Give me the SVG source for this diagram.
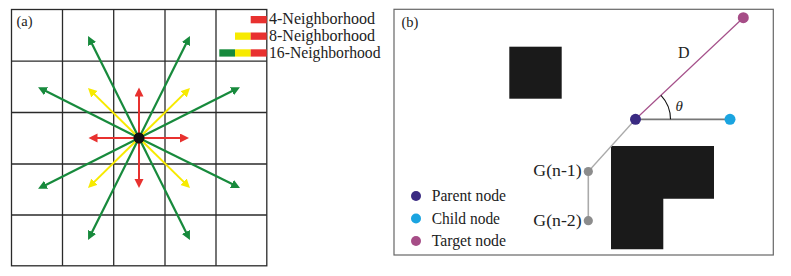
<svg xmlns="http://www.w3.org/2000/svg" width="791" height="276" viewBox="0 0 791 276">
<style>
text{font-family:"Liberation Serif","Times New Roman",serif;fill:#222}
.grid{stroke:#2a2a2a;stroke-width:1.3;fill:none}
.r{stroke:#e8312f;stroke-width:2}
.y{stroke:#f7ea00;stroke-width:2}
.g{stroke:#178a3c;stroke-width:2.2}
.lab{font-size:16px}
.obs{fill:#1a1a1a}
</style>
<defs>
<marker id="ar" markerUnits="userSpaceOnUse" markerWidth="10" markerHeight="10" refX="2" refY="4.5" orient="auto"><path d="M0,0 L9,4.5 L0,9 z" fill="#e8312f"/></marker>
<marker id="ay" markerUnits="userSpaceOnUse" markerWidth="10" markerHeight="10" refX="2" refY="4.5" orient="auto"><path d="M0,0 L9,4.5 L0,9 z" fill="#f7ea00"/></marker>
<marker id="ag" markerUnits="userSpaceOnUse" markerWidth="10" markerHeight="10" refX="2" refY="4.5" orient="auto"><path d="M0,0 L9,4.5 L0,9 z" fill="#178a3c"/></marker>
</defs>
<rect width="791" height="276" fill="#fff"/>

<g id="panel-a">
<g id="grid" class="grid">
<rect x="11.5" y="9.5" width="255.3" height="256.3"/>
<line x1="62.5" y1="9.5" x2="62.5" y2="265.8"/>
<line x1="113.7" y1="9.5" x2="113.7" y2="265.8"/>
<line x1="165" y1="9.5" x2="165" y2="265.8"/>
<line x1="216" y1="9.5" x2="216" y2="265.8"/>
<line x1="11.5" y1="61.1" x2="266.8" y2="61.1"/>
<line x1="11.5" y1="112.5" x2="266.8" y2="112.5"/>
<line x1="11.5" y1="164" x2="266.8" y2="164"/>
<line x1="11.5" y1="215" x2="266.8" y2="215"/>
</g>
<text x="16.5" y="26" font-size="14.5">(a)</text>
<g id="connectors-a">
<g class="g">
<line x1="139" y1="138" x2="91.2" y2="42.3" marker-end="url(#ag)"/>
<line x1="139" y1="138" x2="186.8" y2="42.3" marker-end="url(#ag)"/>
<line x1="139" y1="138" x2="44.3" y2="90.3" marker-end="url(#ag)"/>
<line x1="139" y1="138" x2="233.7" y2="90.3" marker-end="url(#ag)"/>
<line x1="139" y1="138" x2="44.3" y2="185.7" marker-end="url(#ag)"/>
<line x1="139" y1="138" x2="233.7" y2="184.8" marker-end="url(#ag)"/>
<line x1="139" y1="138" x2="91.2" y2="233.7" marker-end="url(#ag)"/>
<line x1="139" y1="138" x2="186.8" y2="233.7" marker-end="url(#ag)"/>
</g>
<g class="y">
<line x1="139" y1="138" x2="93" y2="92.9" marker-end="url(#ay)"/>
<line x1="139" y1="138" x2="185" y2="92.9" marker-end="url(#ay)"/>
<line x1="139" y1="138" x2="93" y2="183.1" marker-end="url(#ay)"/>
<line x1="139" y1="138" x2="185" y2="183.1" marker-end="url(#ay)"/>
</g>
<g class="r">
<line x1="139" y1="138" x2="139" y2="94.5" marker-end="url(#ar)"/>
<line x1="139" y1="138" x2="139" y2="181" marker-end="url(#ar)"/>
<line x1="139" y1="138" x2="95.5" y2="138" marker-end="url(#ar)"/>
<line x1="139" y1="138" x2="182" y2="138" marker-end="url(#ar)"/>
</g>
</g>
<g id="center-node"><circle cx="139" cy="138" r="5.5" fill="#111"/></g>
<g id="legend-a">
<rect x="250.7" y="16" width="16" height="7.3" fill="#e8312f"/>
<rect x="235" y="32.5" width="15.7" height="7.3" fill="#f7ea00"/>
<rect x="250.7" y="32.5" width="16" height="7.3" fill="#e8312f"/>
<rect x="219.3" y="49.3" width="15.7" height="7.3" fill="#178a3c"/>
<rect x="235" y="49.3" width="15.7" height="7.3" fill="#f7ea00"/>
<rect x="250.7" y="49.3" width="16" height="7.3" fill="#e8312f"/>
<text class="lab" x="269" y="24.3" textLength="106" lengthAdjust="spacingAndGlyphs">4-Neighborhood</text>
<text class="lab" x="269" y="41" textLength="106" lengthAdjust="spacingAndGlyphs">8-Neighborhood</text>
<text class="lab" x="269" y="57.8" textLength="111.5" lengthAdjust="spacingAndGlyphs">16-Neighborhood</text>
</g>
</g>

<g id="panel-b">
<rect x="394" y="9.3" width="379.3" height="245.7" fill="none" stroke="#666" stroke-width="1.2"/>
<text x="401.5" y="27.3" font-size="14.5">(b)</text>
<g id="obstacle-1"><rect class="obs" x="509.3" y="46.7" width="52.4" height="52"/></g>
<g id="obstacle-2"><polygon class="obs" points="611,146 714,146 714,198.7 663.3,198.7 663.3,249.3 611,249.3"/></g>
<g id="connectors-b" fill="none">
<line x1="635.5" y1="119.3" x2="743.3" y2="17.7" stroke="#a5508a" stroke-width="1.2"/>
<line x1="635.5" y1="119.3" x2="730" y2="119.3" stroke="#777" stroke-width="1.8"/>
<line x1="635.5" y1="119.3" x2="588.3" y2="171.5" stroke="#aaa" stroke-width="1.3"/>
<line x1="588.3" y1="171.5" x2="588.3" y2="220.7" stroke="#aaa" stroke-width="1.6"/>
<path d="M670.5,119.3 A35,35 0 0 0 661,95.3" stroke="#111" stroke-width="1.1"/>
<text x="678" y="57.5" font-size="16">D</text>
<text x="675.5" y="110.5" font-size="15" font-style="italic">θ</text>
</g>
<g id="parent-node"><circle cx="635.5" cy="119.3" r="5.5" fill="#3a2a82"/></g>
<g id="child-node"><circle cx="730" cy="119.3" r="5.5" fill="#1aa4e0"/></g>
<g id="target-node"><circle cx="743.3" cy="17.7" r="5.5" fill="#a64d87"/></g>
<g id="g-n-1"><circle cx="588.3" cy="171.5" r="4.6" fill="#8c8c8c"/><text class="lab" x="533.3" y="175.5" textLength="48.4" lengthAdjust="spacingAndGlyphs">G(n-1)</text></g>
<g id="g-n-2"><circle cx="588.3" cy="220.7" r="4.6" fill="#8c8c8c"/><text class="lab" x="533.3" y="225.5" textLength="48.4" lengthAdjust="spacingAndGlyphs">G(n-2)</text></g>
<g id="legend-b">
<circle cx="416" cy="196" r="5" fill="#3a2a82"/>
<circle cx="416" cy="218.5" r="5" fill="#1aa4e0"/>
<circle cx="416" cy="241" r="5" fill="#a64d87"/>
<text class="lab" x="431.7" y="201" textLength="74.3" lengthAdjust="spacingAndGlyphs">Parent node</text>
<text class="lab" x="431.7" y="223.5" textLength="68.3" lengthAdjust="spacingAndGlyphs">Child node</text>
<text class="lab" x="431.7" y="246" textLength="74.3" lengthAdjust="spacingAndGlyphs">Target node</text>
</g>
</g>
</svg>
